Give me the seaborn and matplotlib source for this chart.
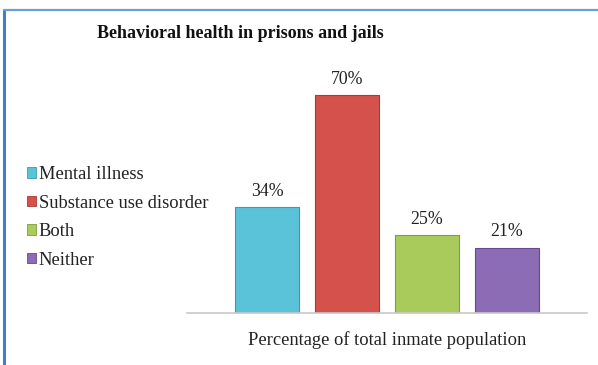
import matplotlib
matplotlib.use("Agg")
import matplotlib.pyplot as plt
import seaborn as sns
import pandas as pd
from matplotlib.patches import Patch
from matplotlib.lines import Line2D

# data
groups = ["Mental illness", "Substance use disorder", "Both", "Neither"]
values = [34, 70, 25, 21]
labels = ["34%", "70%", "25%", "21%"]
colors = ["#5bc3d9", "#d4524b", "#a8cb5c", "#8b6cb5"]
edges = ["#3a9bb0", "#a83a34", "#7f9e3c", "#66498f"]

df = pd.DataFrame({"group": groups, "value": values})

sns.set_style("white")
plt.rcParams["font.family"] = ["Liberation Serif", "DejaVu Serif"]

fig = plt.figure(figsize=(5.98, 3.65), dpi=100)
ax = fig.add_axes([187 / 598, 52 / 365, 400 / 598, 249 / 365])

sns.barplot(data=df, x="group", y="value", hue="group", palette=colors,
            saturation=1, width=0.8, legend=False, ax=ax)
for bar, ec in zip(ax.patches, edges):
    bar.set_edgecolor(ec)
    bar.set_linewidth(0.8)

for i, (v, lab) in enumerate(zip(values, labels)):
    ax.text(i, v + 2.4, lab, ha="center", va="bottom", fontsize=12.8, color="#222222")

ax.set_xlim(-1, 4)
ax.set_ylim(0, 80)
ax.set_xticks([])
ax.set_yticks([])
ax.set_ylabel("")
ax.set_xlabel("Percentage of total inmate population", fontsize=13.3,
              color="#222222", labelpad=13)
for s in ["top", "right", "left"]:
    ax.spines[s].set_visible(False)
ax.spines["bottom"].set_color("#c8c8c8")
ax.spines["bottom"].set_linewidth(1.2)

fig.text(240 / 598, 1 - 34 / 365, "Behavioral health in prisons and jails",
         ha="center", va="center", fontsize=13, fontweight="bold", color="#111111")

handles = [Patch(facecolor=c, edgecolor=e, linewidth=0.6) for c, e in zip(colors, edges)]
fig.legend(handles, groups, loc="upper left", bbox_to_anchor=(18 / 598, 1 - 157 / 365),
           frameon=False, fontsize=13.3, handlelength=0.5, handleheight=0.5,
           handletextpad=0.12, labelspacing=0.62, borderpad=0, labelcolor="#222222")

# blue frame lines on the top and left
fig.add_artist(Line2D([4 / 598, 4 / 598], [0, 1 - 9.5 / 365], transform=fig.transFigure,
                      color="#3f7fcf", linewidth=2.2))
fig.add_artist(Line2D([4 / 598, 1], [1 - 9.5 / 365, 1 - 9.5 / 365], transform=fig.transFigure,
                      color="#6a9fd8", linewidth=1.6))

fig.savefig("out.png", dpi=100)
